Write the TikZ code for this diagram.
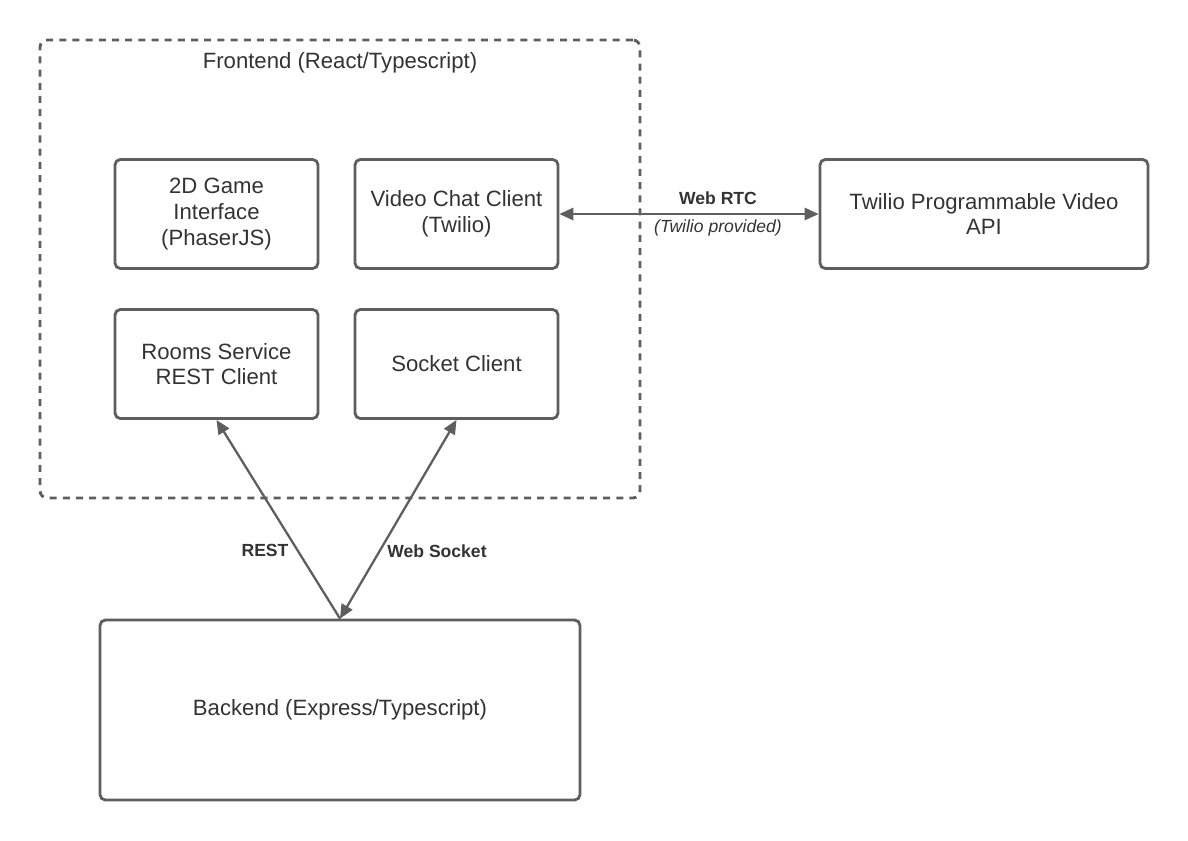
\documentclass[tikz,border=0pt]{standalone}
\usepackage{fontspec}
\setmainfont{Liberation Sans}
\usepackage{tikz}
\usepackage{xcolor}
\usetikzlibrary{arrows.meta}
\definecolor{linegray}{HTML}{5E5E5E}
\definecolor{textgray}{HTML}{333333}
\tikzstyle{comp} = [draw=linegray, line width=1.6pt, rounded corners=3pt, align=center, text=textgray, font=\fontsize{12.6}{14.6}\selectfont, inner sep=0pt]
\tikzstyle{lbl} = [text=textgray, font=\bfseries\fontsize{10}{12}\selectfont]

\begin{document}
\begin{tikzpicture}[x=0.02cm, y=-0.02cm]
			\tikzset{link/.style={draw=linegray, line width=1.3pt, {Triangle[length=8pt,width=7pt]}-{Triangle[length=8pt,width=7pt]}}}
\useasboundingbox (0,0) rectangle (1188,840);
\node[draw=linegray, line width=1.6pt, dash pattern=on 4pt off 3.5pt, rounded corners=4pt, minimum width=12cm, minimum height=9.16cm] (frontend) at (340,269) {};
\node[text=textgray, font=\fontsize{12.6}{14.6}\selectfont] (ftitle) at (340,63) {Frontend (React/Typescript)};

\node[comp, minimum width=4.06cm, minimum height=2.18cm] (game) at (216.5,214) {2D Game\\Interface\\(PhaserJS)};
\node[comp, minimum width=4.06cm, minimum height=2.18cm] (video) at (456.5,214) {Video Chat Client\\(Twilio)};
\node[comp, minimum width=4.06cm, minimum height=2.18cm] (rooms) at (216.5,364) {Rooms Service\\REST Client};
\node[comp, minimum width=4.06cm, minimum height=2.18cm] (socket) at (456.5,364) {Socket Client};
\node[comp, minimum width=6.56cm, minimum height=2.18cm] (twilio) at (984,214) {Twilio Programmable Video\\API};
\node[comp, minimum width=9.6cm, minimum height=3.6cm] (backend) at (340,710) {Backend (Express/Typescript)};

\draw[link] (video.east) -- (twilio.west);
\draw[link, {Triangle[length=8pt,width=7pt]}-] (rooms.south) -- (backend.north);
\draw[link] (socket.south) -- (backend.north);

\node[lbl] (rtc) at (718,198) {Web RTC};
\node[text=textgray, font=\itshape\fontsize{10}{12}\selectfont] (prov) at (718,228) {(Twilio provided)};
\node[lbl] (rest) at (265,550) {REST};
\node[lbl] (ws) at (437,551) {Web Socket};

		\end{tikzpicture}
\end{document}
